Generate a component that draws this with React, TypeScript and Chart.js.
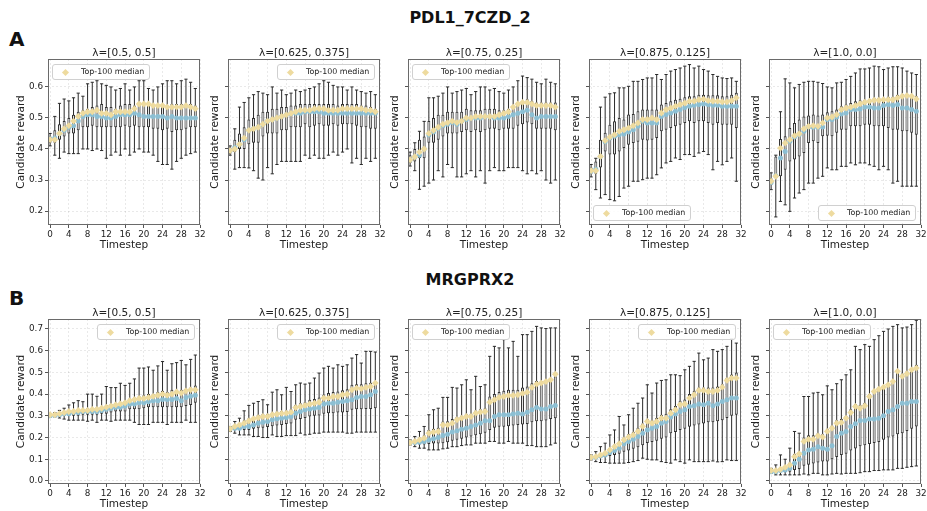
import React, { useEffect, useRef } from 'react';
import { Chart, registerables } from 'chart.js';

Chart.register(...registerables);
Chart.defaults.font.family = "'DejaVu Sans', sans-serif";

// ---------- categories / labels ----------
const TIMESTEPS = [0, 1, 2, 3, 4, 5, 6, 7, 8, 9, 10, 11, 12, 13, 14, 15, 16, 17, 18, 19, 20, 21, 22, 23, 24, 25, 26, 27, 28, 29, 30, 31];
const ROW_TITLES = ['PDL1_7CZD_2', 'MRGPRX2'];
const ROW_LETTERS = ['A', 'B'];
const LAMBDA_TITLES = ['λ=[0.5, 0.5]', 'λ=[0.625, 0.375]', 'λ=[0.75, 0.25]', 'λ=[0.875, 0.125]', 'λ=[1.0, 0.0]'];
const LEGEND_LABEL = 'Top-100 median';
const Y_LABEL = 'Candidate reward';
const X_LABEL = 'Timestep';
const X_LIMITS = [-0.45, 32];
const X_TICK_STEP = 4;
const Y_LIMITS = [[0.155, 0.69], [-0.014, 0.746]];
const Y_TICK_STEP = 0.1;
const LEGEND_LOCS = [['ul', 'ur', 'ul', 'll', 'lr'], ['ur', 'ur', 'ul', 'ur', 'ul']];

// ---------- PDL1_7CZD_2 ----------
const A1_lo = [0.41,0.38,0.37,0.39,0.385,0.385,0.385,0.40,0.40,0.395,0.40,0.395,0.37,0.38,0.39,0.38,0.40,0.38,0.39,0.40,0.39,0.39,0.38,0.36,0.35,0.35,0.335,0.36,0.37,0.38,0.385,0.39];
const A1_q1 = [0.42,0.42,0.43,0.44,0.45,0.45,0.46,0.47,0.47,0.475,0.47,0.47,0.47,0.47,0.47,0.47,0.475,0.47,0.475,0.47,0.47,0.47,0.465,0.465,0.46,0.465,0.455,0.46,0.46,0.465,0.47,0.47];
const A1_med = [0.432,0.435,0.45,0.46,0.47,0.475,0.49,0.505,0.51,0.51,0.505,0.505,0.50,0.50,0.505,0.51,0.51,0.51,0.515,0.51,0.505,0.505,0.505,0.505,0.505,0.50,0.505,0.50,0.50,0.50,0.50,0.50];
const A1_q3 = [0.44,0.46,0.48,0.49,0.50,0.51,0.52,0.525,0.53,0.535,0.54,0.545,0.535,0.535,0.53,0.54,0.545,0.545,0.54,0.55,0.545,0.545,0.545,0.545,0.54,0.54,0.545,0.545,0.545,0.545,0.545,0.54];
const A1_hi = [0.45,0.505,0.547,0.561,0.555,0.565,0.58,0.57,0.61,0.615,0.62,0.61,0.605,0.60,0.59,0.595,0.61,0.59,0.60,0.62,0.62,0.595,0.59,0.60,0.61,0.62,0.62,0.61,0.62,0.625,0.615,0.595];
const A1_top = [0.43,0.43,0.45,0.465,0.475,0.49,0.505,0.515,0.52,0.52,0.525,0.515,0.515,0.51,0.52,0.52,0.52,0.52,0.53,0.545,0.545,0.545,0.54,0.54,0.54,0.535,0.535,0.535,0.535,0.54,0.535,0.53];

const A2_lo = [0.38,0.335,0.34,0.34,0.339,0.33,0.306,0.30,0.34,0.32,0.35,0.36,0.36,0.36,0.36,0.36,0.38,0.37,0.38,0.37,0.37,0.38,0.39,0.38,0.39,0.40,0.355,0.37,0.35,0.37,0.36,0.37];
const A2_q1 = [0.385,0.39,0.40,0.40,0.415,0.42,0.42,0.44,0.45,0.45,0.45,0.46,0.46,0.47,0.47,0.47,0.48,0.47,0.475,0.48,0.475,0.475,0.48,0.475,0.48,0.48,0.48,0.475,0.47,0.47,0.465,0.465];
const A2_med = [0.395,0.405,0.415,0.43,0.46,0.465,0.47,0.48,0.49,0.495,0.50,0.505,0.51,0.515,0.515,0.515,0.52,0.52,0.52,0.52,0.515,0.515,0.515,0.515,0.515,0.515,0.515,0.515,0.515,0.515,0.515,0.515];
const A2_q3 = [0.405,0.43,0.45,0.47,0.495,0.50,0.51,0.52,0.52,0.53,0.53,0.535,0.535,0.54,0.54,0.545,0.545,0.545,0.545,0.545,0.545,0.545,0.545,0.54,0.545,0.545,0.545,0.545,0.54,0.54,0.535,0.53];
const A2_hi = [0.41,0.465,0.535,0.55,0.565,0.575,0.585,0.58,0.575,0.60,0.58,0.59,0.575,0.58,0.59,0.585,0.59,0.595,0.60,0.61,0.62,0.615,0.605,0.60,0.60,0.59,0.60,0.59,0.585,0.58,0.585,0.575];
const A2_top = [0.395,0.40,0.415,0.435,0.46,0.465,0.47,0.48,0.49,0.495,0.50,0.505,0.51,0.515,0.52,0.525,0.525,0.525,0.53,0.53,0.53,0.525,0.525,0.525,0.53,0.53,0.53,0.53,0.53,0.525,0.525,0.52];

const A3_lo = [0.345,0.33,0.27,0.28,0.29,0.30,0.33,0.31,0.35,0.34,0.31,0.31,0.32,0.33,0.31,0.33,0.29,0.33,0.34,0.33,0.33,0.34,0.34,0.34,0.33,0.32,0.33,0.32,0.33,0.30,0.29,0.30];
const A3_q1 = [0.355,0.36,0.37,0.37,0.42,0.42,0.43,0.44,0.45,0.45,0.45,0.455,0.46,0.455,0.46,0.455,0.46,0.465,0.465,0.46,0.465,0.465,0.465,0.475,0.48,0.485,0.48,0.465,0.465,0.465,0.465,0.46];
const A3_med = [0.365,0.375,0.38,0.40,0.445,0.455,0.465,0.475,0.48,0.485,0.48,0.49,0.495,0.50,0.50,0.50,0.505,0.505,0.50,0.50,0.50,0.505,0.51,0.515,0.52,0.525,0.51,0.50,0.505,0.505,0.505,0.505];
const A3_q3 = [0.38,0.40,0.43,0.44,0.49,0.50,0.51,0.51,0.52,0.52,0.52,0.52,0.53,0.525,0.525,0.525,0.53,0.53,0.53,0.525,0.525,0.53,0.54,0.55,0.555,0.56,0.555,0.55,0.55,0.55,0.55,0.55];
const A3_hi = [0.39,0.42,0.457,0.489,0.565,0.565,0.57,0.58,0.60,0.58,0.585,0.59,0.595,0.575,0.585,0.60,0.60,0.59,0.595,0.585,0.58,0.59,0.60,0.62,0.635,0.63,0.625,0.615,0.61,0.625,0.615,0.61];
const A3_top = [0.365,0.375,0.39,0.40,0.45,0.46,0.47,0.48,0.485,0.49,0.485,0.49,0.50,0.50,0.505,0.505,0.505,0.505,0.505,0.51,0.515,0.52,0.535,0.545,0.55,0.55,0.545,0.54,0.54,0.54,0.54,0.535];

const A4_lo = [0.31,0.269,0.242,0.253,0.237,0.233,0.247,0.274,0.28,0.296,0.296,0.301,0.306,0.306,0.317,0.339,0.355,0.36,0.371,0.366,0.382,0.382,0.376,0.387,0.392,0.382,0.333,0.36,0.349,0.36,0.371,0.296];
const A4_q1 = [0.32,0.32,0.34,0.392,0.382,0.382,0.392,0.403,0.414,0.419,0.423,0.43,0.427,0.43,0.435,0.457,0.462,0.468,0.473,0.478,0.484,0.489,0.484,0.489,0.489,0.484,0.478,0.484,0.478,0.478,0.478,0.468];
const A4_med = [0.328,0.335,0.376,0.423,0.435,0.441,0.446,0.448,0.455,0.462,0.473,0.489,0.484,0.484,0.484,0.505,0.511,0.516,0.522,0.527,0.534,0.538,0.541,0.543,0.545,0.543,0.541,0.541,0.538,0.538,0.538,0.538];
const A4_q3 = [0.34,0.36,0.43,0.452,0.478,0.489,0.5,0.495,0.511,0.513,0.522,0.527,0.527,0.527,0.527,0.543,0.548,0.554,0.559,0.562,0.567,0.57,0.57,0.575,0.575,0.573,0.573,0.573,0.57,0.57,0.575,0.581];
const A4_hi = [0.35,0.37,0.535,0.567,0.578,0.581,0.597,0.597,0.602,0.618,0.618,0.624,0.629,0.629,0.64,0.624,0.64,0.651,0.656,0.661,0.667,0.672,0.661,0.667,0.656,0.651,0.64,0.634,0.629,0.627,0.629,0.618];
const A4_top = [0.33,0.33,0.376,0.427,0.438,0.446,0.457,0.462,0.468,0.475,0.484,0.495,0.495,0.5,0.495,0.516,0.527,0.532,0.538,0.543,0.548,0.554,0.554,0.559,0.561,0.556,0.554,0.554,0.552,0.552,0.556,0.565];

const A5_lo = [0.269,0.181,0.231,0.22,0.199,0.242,0.258,0.269,0.29,0.29,0.306,0.312,0.339,0.333,0.333,0.344,0.344,0.355,0.349,0.355,0.355,0.349,0.344,0.333,0.344,0.333,0.29,0.296,0.28,0.28,0.28,0.28];
const A5_q1 = [0.285,0.306,0.312,0.333,0.36,0.366,0.376,0.387,0.419,0.425,0.419,0.441,0.443,0.441,0.452,0.462,0.462,0.473,0.473,0.473,0.478,0.478,0.473,0.473,0.473,0.468,0.462,0.462,0.457,0.457,0.452,0.446];
const A5_med = [0.292,0.314,0.371,0.392,0.425,0.439,0.446,0.457,0.471,0.47,0.47,0.471,0.495,0.495,0.503,0.513,0.516,0.527,0.527,0.529,0.535,0.535,0.532,0.532,0.54,0.543,0.54,0.543,0.532,0.532,0.527,0.522];
const A5_q3 = [0.306,0.376,0.432,0.441,0.468,0.484,0.495,0.505,0.508,0.511,0.508,0.511,0.518,0.522,0.527,0.538,0.543,0.548,0.554,0.557,0.559,0.561,0.565,0.565,0.565,0.568,0.568,0.575,0.577,0.578,0.575,0.57];
const A5_hi = [0.323,0.38,0.52,0.626,0.613,0.597,0.608,0.615,0.618,0.618,0.615,0.611,0.6,0.597,0.613,0.615,0.624,0.634,0.645,0.658,0.658,0.661,0.667,0.665,0.656,0.661,0.665,0.665,0.661,0.651,0.645,0.64];
const A5_top = [0.296,0.312,0.403,0.419,0.43,0.443,0.449,0.465,0.473,0.475,0.473,0.484,0.5,0.503,0.511,0.527,0.532,0.535,0.54,0.546,0.551,0.554,0.557,0.557,0.559,0.559,0.559,0.565,0.57,0.572,0.57,0.561];

// ---------- MRGPRX2 ----------
const B1_lo = [0.295,0.295,0.29,0.285,0.28,0.28,0.28,0.28,0.275,0.28,0.27,0.28,0.28,0.275,0.28,0.28,0.28,0.28,0.27,0.26,0.26,0.26,0.27,0.27,0.27,0.26,0.27,0.27,0.27,0.28,0.27,0.27];
const B1_q1 = [0.298,0.298,0.30,0.30,0.30,0.30,0.30,0.305,0.305,0.305,0.305,0.31,0.31,0.315,0.32,0.32,0.32,0.33,0.33,0.33,0.335,0.34,0.34,0.34,0.34,0.34,0.34,0.34,0.34,0.345,0.35,0.36];
const B1_med = [0.30,0.303,0.305,0.31,0.31,0.315,0.315,0.32,0.32,0.32,0.32,0.325,0.33,0.335,0.34,0.34,0.345,0.355,0.355,0.36,0.36,0.365,0.37,0.37,0.375,0.375,0.375,0.38,0.37,0.385,0.39,0.395];
const B1_q3 = [0.308,0.31,0.315,0.32,0.325,0.325,0.33,0.33,0.335,0.335,0.34,0.34,0.35,0.355,0.36,0.365,0.37,0.38,0.385,0.39,0.395,0.40,0.40,0.41,0.415,0.41,0.42,0.42,0.42,0.425,0.43,0.44];
const B1_hi = [0.31,0.315,0.325,0.335,0.35,0.36,0.37,0.365,0.40,0.40,0.39,0.40,0.435,0.43,0.43,0.45,0.44,0.45,0.47,0.52,0.52,0.525,0.51,0.53,0.55,0.51,0.54,0.545,0.555,0.535,0.56,0.58];
const B1_top = [0.305,0.305,0.31,0.315,0.32,0.32,0.325,0.325,0.325,0.33,0.33,0.335,0.34,0.345,0.35,0.355,0.36,0.37,0.375,0.38,0.38,0.385,0.39,0.395,0.40,0.395,0.40,0.41,0.405,0.415,0.42,0.42];

const B2_lo = [0.228,0.22,0.212,0.212,0.212,0.205,0.205,0.2,0.2,0.212,0.205,0.205,0.209,0.209,0.209,0.22,0.212,0.215,0.22,0.22,0.225,0.225,0.225,0.225,0.225,0.22,0.22,0.225,0.225,0.225,0.225,0.225];
const B2_q1 = [0.235,0.235,0.235,0.235,0.235,0.24,0.243,0.245,0.248,0.252,0.255,0.258,0.262,0.265,0.282,0.285,0.29,0.297,0.30,0.302,0.31,0.312,0.312,0.315,0.315,0.318,0.328,0.33,0.33,0.332,0.332,0.335];
const B2_med = [0.24,0.243,0.243,0.251,0.251,0.258,0.266,0.271,0.274,0.282,0.286,0.289,0.292,0.297,0.312,0.32,0.328,0.332,0.335,0.338,0.354,0.358,0.358,0.363,0.366,0.369,0.374,0.385,0.389,0.389,0.397,0.412];
const B2_q3 = [0.245,0.258,0.268,0.28,0.289,0.296,0.305,0.308,0.31,0.315,0.32,0.322,0.325,0.33,0.351,0.358,0.362,0.374,0.378,0.385,0.398,0.405,0.41,0.412,0.418,0.422,0.443,0.445,0.445,0.45,0.452,0.458];
const B2_hi = [0.251,0.274,0.289,0.323,0.348,0.358,0.366,0.374,0.351,0.409,0.42,0.397,0.431,0.412,0.443,0.451,0.446,0.451,0.474,0.497,0.52,0.528,0.52,0.535,0.528,0.535,0.566,0.582,0.543,0.597,0.597,0.594];
const B2_top = [0.24,0.251,0.258,0.266,0.277,0.286,0.292,0.297,0.297,0.305,0.308,0.311,0.312,0.317,0.338,0.343,0.348,0.354,0.358,0.363,0.382,0.382,0.389,0.389,0.397,0.4,0.42,0.428,0.425,0.431,0.435,0.451];

const B3_lo = [0.166,0.158,0.151,0.151,0.143,0.143,0.143,0.148,0.151,0.158,0.158,0.163,0.166,0.166,0.174,0.174,0.174,0.182,0.182,0.174,0.174,0.182,0.174,0.174,0.174,0.163,0.163,0.158,0.158,0.158,0.166,0.174];
const B3_q1 = [0.172,0.17,0.168,0.168,0.17,0.172,0.172,0.174,0.178,0.185,0.19,0.195,0.20,0.205,0.21,0.215,0.222,0.235,0.245,0.25,0.25,0.252,0.255,0.258,0.26,0.262,0.27,0.275,0.275,0.278,0.285,0.289];
const B3_med = [0.177,0.177,0.178,0.182,0.189,0.194,0.2,0.209,0.215,0.225,0.231,0.238,0.243,0.251,0.258,0.266,0.277,0.277,0.297,0.305,0.305,0.305,0.308,0.312,0.308,0.317,0.328,0.338,0.332,0.332,0.343,0.348];
const B3_q3 = [0.182,0.19,0.2,0.21,0.235,0.24,0.245,0.274,0.275,0.285,0.295,0.30,0.31,0.31,0.325,0.33,0.335,0.389,0.40,0.41,0.415,0.42,0.42,0.42,0.43,0.435,0.45,0.46,0.46,0.465,0.47,0.482];
const B3_hi = [0.189,0.205,0.228,0.251,0.305,0.328,0.335,0.385,0.385,0.431,0.428,0.443,0.466,0.42,0.482,0.435,0.443,0.574,0.62,0.613,0.651,0.613,0.643,0.574,0.674,0.674,0.689,0.712,0.705,0.702,0.705,0.705];
const B3_top = [0.177,0.182,0.189,0.197,0.22,0.225,0.228,0.258,0.258,0.266,0.282,0.289,0.297,0.297,0.312,0.317,0.32,0.363,0.374,0.385,0.389,0.394,0.394,0.397,0.403,0.409,0.431,0.446,0.451,0.458,0.466,0.492];

const B4_lo = [0.097,0.089,0.085,0.085,0.082,0.082,0.082,0.082,0.085,0.089,0.094,0.105,0.1,0.097,0.097,0.089,0.085,0.082,0.097,0.089,0.082,0.097,0.089,0.089,0.089,0.089,0.092,0.088,0.089,0.097,0.094,0.094];
const B4_q1 = [0.105,0.105,0.108,0.11,0.115,0.12,0.125,0.135,0.14,0.148,0.155,0.165,0.175,0.18,0.185,0.195,0.2,0.22,0.225,0.235,0.24,0.25,0.255,0.26,0.265,0.27,0.27,0.275,0.28,0.29,0.30,0.305];
const B4_med = [0.108,0.109,0.115,0.12,0.131,0.14,0.151,0.171,0.182,0.192,0.205,0.22,0.235,0.243,0.251,0.266,0.274,0.295,0.309,0.32,0.328,0.343,0.346,0.355,0.351,0.358,0.346,0.355,0.366,0.374,0.382,0.382];
const B4_q3 = [0.112,0.118,0.128,0.135,0.152,0.168,0.182,0.2,0.215,0.225,0.245,0.265,0.285,0.28,0.29,0.305,0.31,0.33,0.345,0.37,0.375,0.40,0.415,0.43,0.43,0.43,0.43,0.435,0.445,0.475,0.49,0.50];
const B4_hi = [0.12,0.135,0.158,0.174,0.212,0.235,0.297,0.258,0.305,0.335,0.358,0.382,0.443,0.405,0.451,0.463,0.466,0.489,0.489,0.485,0.512,0.528,0.551,0.589,0.558,0.566,0.605,0.597,0.605,0.62,0.654,0.635];
const B4_top = [0.109,0.112,0.12,0.128,0.143,0.158,0.171,0.189,0.202,0.212,0.228,0.251,0.274,0.266,0.274,0.289,0.289,0.312,0.328,0.351,0.355,0.382,0.397,0.417,0.417,0.412,0.412,0.417,0.432,0.463,0.474,0.474];

const B5_lo = [0.035,0.028,0.028,0.028,0.028,0.028,0.028,0.032,0.028,0.035,0.035,0.028,0.028,0.032,0.035,0.032,0.035,0.035,0.035,0.038,0.043,0.043,0.048,0.048,0.051,0.051,0.051,0.058,0.058,0.063,0.066,0.069];
const B5_q1 = [0.038,0.038,0.04,0.04,0.042,0.05,0.055,0.07,0.075,0.08,0.085,0.09,0.09,0.10,0.11,0.12,0.125,0.14,0.15,0.16,0.165,0.17,0.175,0.18,0.19,0.2,0.205,0.215,0.22,0.23,0.24,0.251];
const B5_med = [0.043,0.043,0.048,0.051,0.058,0.082,0.1,0.128,0.143,0.146,0.158,0.151,0.146,0.162,0.205,0.22,0.228,0.251,0.263,0.278,0.278,0.285,0.285,0.289,0.3,0.32,0.328,0.343,0.358,0.358,0.366,0.366];
const B5_q3 = [0.05,0.055,0.062,0.07,0.085,0.125,0.135,0.2,0.21,0.21,0.22,0.215,0.24,0.255,0.28,0.285,0.30,0.33,0.355,0.35,0.36,0.40,0.42,0.43,0.44,0.45,0.465,0.505,0.495,0.505,0.52,0.535];
const B5_hi = [0.058,0.074,0.12,0.1,0.151,0.228,0.22,0.389,0.389,0.405,0.408,0.397,0.438,0.42,0.448,0.466,0.489,0.512,0.62,0.605,0.628,0.62,0.651,0.669,0.689,0.7,0.712,0.72,0.705,0.709,0.72,0.74];
const B5_top = [0.048,0.048,0.054,0.063,0.074,0.112,0.125,0.182,0.192,0.192,0.208,0.202,0.228,0.243,0.266,0.269,0.289,0.315,0.343,0.335,0.346,0.389,0.412,0.423,0.432,0.443,0.458,0.505,0.482,0.494,0.512,0.52];

type Series = { lo: number[]; q1: number[]; med: number[]; q3: number[]; hi: number[]; top: number[] };
const PANEL_DATA: Series[][] = [
  [
    { lo: A1_lo, q1: A1_q1, med: A1_med, q3: A1_q3, hi: A1_hi, top: A1_top },
    { lo: A2_lo, q1: A2_q1, med: A2_med, q3: A2_q3, hi: A2_hi, top: A2_top },
    { lo: A3_lo, q1: A3_q1, med: A3_med, q3: A3_q3, hi: A3_hi, top: A3_top },
    { lo: A4_lo, q1: A4_q1, med: A4_med, q3: A4_q3, hi: A4_hi, top: A4_top },
    { lo: A5_lo, q1: A5_q1, med: A5_med, q3: A5_q3, hi: A5_hi, top: A5_top },
  ],
  [
    { lo: B1_lo, q1: B1_q1, med: B1_med, q3: B1_q3, hi: B1_hi, top: B1_top },
    { lo: B2_lo, q1: B2_q1, med: B2_med, q3: B2_q3, hi: B2_hi, top: B2_top },
    { lo: B3_lo, q1: B3_q1, med: B3_med, q3: B3_q3, hi: B3_hi, top: B3_top },
    { lo: B4_lo, q1: B4_q1, med: B4_med, q3: B4_q3, hi: B4_hi, top: B4_top },
    { lo: B5_lo, q1: B5_q1, med: B5_med, q3: B5_q3, hi: B5_hi, top: B5_top },
  ],
];

// ---------- layout / style ----------
const PLOT_LEFTS = [48, 228, 408, 589, 769];
const PLOT_W = 152;
const ROW_TOP = [59, 319];
const ROW_BOTTOM = [225, 484];
const AXIS_W = 48;
const AXIS_H = 28;
const PAD_TOP = 8;
const PAD_RIGHT = 12;

const YELLOW = '#eedb9f';
const BLUE = '#8cbfd3';
const GRID = 'rgba(0,0,0,0.11)';
const TEXT = '#222';
const FONT = "'DejaVu Sans', sans-serif";

const framePlugin = {
  id: 'frame',
  afterDraw(chart: any) {
    const { ctx, chartArea: a } = chart;
    ctx.save();
    ctx.strokeStyle = '#6a6a6a';
    ctx.lineWidth = 1;
    ctx.strokeRect(a.left + 0.5, a.top + 0.5, a.right - a.left - 1, a.bottom - a.top - 1);
    ctx.restore();
  },
};

function Panel({ row, col }: { row: number; col: number }) {
  const ref = useRef<HTMLCanvasElement>(null);
  const plotLeft = PLOT_LEFTS[col];
  const top = ROW_TOP[row];
  const bottom = ROW_BOTTOM[row];
  const W = AXIS_W + PLOT_W + PAD_RIGHT;
  const H = PAD_TOP + (bottom - top) + AXIS_H;
  const firstCol = col === 0;

  useEffect(() => {
    const d = PANEL_DATA[row][col];
    const [ymin, ymax] = Y_LIMITS[row];
    const whiskers = TIMESTEPS.map((t, i) => ({ x: t, y: [d.lo[i], d.hi[i]] }));
    const boxes = TIMESTEPS.map((t, i) => ({ x: t, y: [d.q1[i], d.q3[i]] }));
    const caps = TIMESTEPS.map((t, i) => ({ x: t, y: d.lo[i] })).concat(TIMESTEPS.map((t, i) => ({ x: t, y: d.hi[i] })));
    const meds = TIMESTEPS.map((t, i) => ({ x: t, y: d.med[i] }));
    const tops = TIMESTEPS.map((t, i) => ({ x: t, y: d.top[i] }));

    const chart = new Chart(ref.current as HTMLCanvasElement, {
      type: 'bar',
      data: {
        datasets: [
          {
            type: 'scatter', label: LEGEND_LABEL, data: tops, order: 0,
            pointStyle: 'rectRot', pointRadius: 3.4, pointBackgroundColor: YELLOW, pointBorderWidth: 0,
          } as any,
          {
            type: 'scatter', label: 'median', data: meds, order: 1,
            pointStyle: 'circle', pointRadius: 2.5, pointBackgroundColor: BLUE, pointBorderWidth: 0,
          } as any,
          {
            type: 'bar', label: 'box', data: boxes, order: 2, grouped: false,
            barThickness: 3, backgroundColor: '#ebebeb', borderColor: '#333', borderWidth: 1,
            borderSkipped: false, inflateAmount: 0,
          } as any,
          {
            type: 'scatter', label: 'caps', data: caps, order: 3,
            pointStyle: 'line', pointRadius: 1.6, pointBorderColor: '#2a2a2a', pointBorderWidth: 1,
          } as any,
          {
            type: 'bar', label: 'whisker', data: whiskers, order: 4, grouped: false,
            barThickness: 1, backgroundColor: '#2a2a2a', borderWidth: 0, inflateAmount: 0,
          } as any,
        ],
      },
      options: {
        responsive: false,
        maintainAspectRatio: false,
        animation: false,
        devicePixelRatio: 1,
        events: [],
        layout: { padding: { left: 0, top: PAD_TOP, right: PAD_RIGHT, bottom: 0 } },
        plugins: { legend: { display: false }, tooltip: { enabled: false }, title: { display: false } },
        scales: {
          x: {
            type: 'linear', min: X_LIMITS[0], max: X_LIMITS[1], offset: false,
            ticks: {
              stepSize: X_TICK_STEP, includeBounds: false, autoSkip: false, maxRotation: 0,
              font: { size: 8.8, family: FONT }, color: TEXT, padding: 1,
              callback: (v: any) => String(v),
            },
            grid: { offset: false, color: GRID, lineWidth: 0.8, tickLength: 3, tickColor: '#555', tickWidth: 1 },
            border: { display: false, dash: [2, 2] },
            title: { display: true, text: X_LABEL, color: TEXT, font: { size: 10.5, family: FONT }, padding: { top: 0, bottom: 1 } },
            afterFit: (s: any) => { s.height = AXIS_H; },
          },
          y: {
            type: 'linear', min: ymin, max: ymax,
            ticks: {
              stepSize: Y_TICK_STEP, includeBounds: false, display: firstCol,
              font: { size: 8.8, family: FONT }, color: TEXT, padding: 2,
              callback: (v: any) => Number(v).toFixed(1),
            },
            grid: { color: GRID, lineWidth: 0.8, tickLength: 3, tickColor: '#555', tickWidth: 1 },
            border: { display: false, dash: [2, 2] },
            title: {
              display: true, text: Y_LABEL, color: TEXT, font: { size: 10.5, family: FONT },
              padding: { top: firstCol ? 14.6 : 29.3, bottom: 0 },
            },
            afterFit: (s: any) => { s.width = AXIS_W; },
          },
        },
      } as any,
      plugins: [framePlugin],
    });
    return () => chart.destroy();
  }, [row, col]);

  const loc = LEGEND_LOCS[row][col];
  const legW = 98;
  const legH = 16;
  const legLeft = loc.endsWith('l') ? plotLeft + 4 : plotLeft + PLOT_W - 5 - legW;
  const legTop = loc.startsWith('u') ? top + 5 : bottom - 4 - legH;

  return (
    <>
      <canvas
        ref={ref}
        width={W}
        height={H}
        style={{ position: 'absolute', left: plotLeft - AXIS_W, top: top - PAD_TOP, width: W, height: H }}
      />
      <div
        style={{
          position: 'absolute', left: plotLeft, top: top - 13, width: PLOT_W, textAlign: 'center',
          fontSize: 10.5, lineHeight: '12px', color: TEXT, whiteSpace: 'nowrap',
        }}
      >
        {LAMBDA_TITLES[col]}
      </div>
      <div
        style={{
          position: 'absolute', left: legLeft, top: legTop, width: legW, height: legH, boxSizing: 'border-box',
          border: '1px solid #d0d0d0', borderRadius: 3, background: 'rgba(255,255,255,0.85)',
        }}
      >
        <div
          style={{
            position: 'absolute', left: 10, top: 4.5, width: 5, height: 5, background: YELLOW,
            transform: 'rotate(45deg)',
          }}
        />
        <div
          style={{
            position: 'absolute', left: 28, top: 0, height: legH - 2, lineHeight: `${legH - 2}px`,
            fontSize: 7.9, color: TEXT, whiteSpace: 'nowrap',
          }}
        >
          {LEGEND_LABEL}
        </div>
      </div>
    </>
  );
}

export default function App() {
  return (
    <div
      style={{
        position: 'absolute', left: 0, top: 0, width: 927, height: 511, overflow: 'hidden',
        background: '#fff', fontFamily: FONT,
      }}
    >
      {ROW_TITLES.map((t, r) => (
        <React.Fragment key={t}>
          <div
            style={{
              position: 'absolute', left: 320, width: 300, top: r === 0 ? 7.5 : 270, textAlign: 'center',
              fontWeight: 'bold', fontSize: 16, lineHeight: '19px', color: '#111',
            }}
          >
            {t}
          </div>
          <div
            style={{
              position: 'absolute', left: 9, top: r === 0 ? 27 : 286, fontWeight: 'bold', fontSize: 20,
              lineHeight: '24px', color: '#111',
            }}
          >
            {ROW_LETTERS[r]}
          </div>
        </React.Fragment>
      ))}
      {[0, 1].map((r) => [0, 1, 2, 3, 4].map((c) => <Panel key={`${r}-${c}`} row={r} col={c} />))}
    </div>
  );
}
